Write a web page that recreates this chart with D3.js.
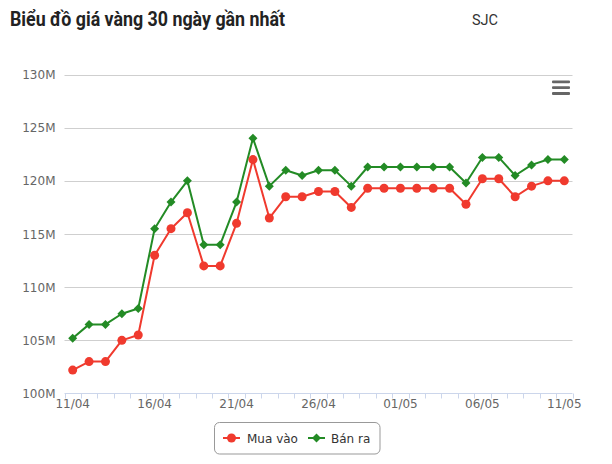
<!DOCTYPE html>
<html>
<head>
<meta charset="utf-8">
<script src="https://cdn.jsdelivr.net/npm/d3@7"></script>
<style>
  html, body { margin: 0; padding: 0; background: #fff; }
  svg { display: block; }
</style>
</head>
<body>
<svg id="chart" width="612" height="464"></svg>
<script>
const dates = ["11/04","12/04","13/04","14/04","15/04","16/04","17/04","18/04","19/04","20/04",
  "21/04","22/04","23/04","24/04","25/04","26/04","27/04","28/04","29/04","30/04",
  "01/05","02/05","03/05","04/05","05/05","06/05","07/05","08/05","09/05","10/05","11/05"];
const muaVao = [102.2,103,103,105,105.5,113,115.5,117,112,112,
  116,122,116.5,118.5,118.5,119,119,117.5,119.3,119.3,
  119.3,119.3,119.3,119.3,117.8,120.2,120.2,118.5,119.5,120,120];
const banRa = [105.2,106.5,106.5,107.5,108,115.5,118,120,114,114,
  118,124,119.5,121,120.5,121,121,119.5,121.3,121.3,
  121.3,121.3,121.3,121.3,119.8,122.2,122.2,120.5,121.5,122,122];
const yTicks = [100,105,110,115,120,125,130];
const xLabelDates = ["11/04","16/04","21/04","26/04","01/05","06/05","11/05"];
const seriesNames = ["Mua vào","Bán ra"];
const chartTitle = "Biểu đồ giá vàng 30 ngày gần nhất";
const chartSubtitle = "SJC";

const svg = d3.select("#chart");
const pLeft = 64.5, pRight = 572.5, pTop = 74.5, pBottom = 393.5;
const x = d3.scaleBand().domain(dates).range([pLeft, pRight]).padding(0);
const cx = d => x(d) + x.bandwidth() / 2;
const y = d3.scaleLinear().domain([100, 130]).range([pBottom, pTop]);
const labelFont = "'DejaVu Sans', Verdana, sans-serif";

// title
svg.append("text").attr("x", 10).attr("y", 26)
  .attr("font-family", "Roboto, sans-serif").attr("font-weight", "bold")
  .attr("font-size", 19.5).attr("fill", "#222")
  .attr("textLength", 275).attr("lengthAdjust", "spacingAndGlyphs").text(chartTitle);
svg.append("text").attr("x", 498).attr("y", 25).attr("text-anchor", "end")
  .attr("font-family", "Roboto, sans-serif").attr("font-size", 14.5)
  .attr("fill", "#333").text(chartSubtitle);

// gridlines
svg.append("g").selectAll("line").data(yTicks.filter(t => t > 100)).join("line")
  .attr("x1", pLeft).attr("x2", pRight)
  .attr("y1", d => Math.round(y(d)) + 0.5).attr("y2", d => Math.round(y(d)) + 0.5)
  .attr("stroke", "#cfcfcf").attr("stroke-width", 1);

// y labels
svg.append("g").selectAll("text").data(yTicks).join("text")
  .attr("x", 55.5).attr("y", d => y(d) + 4.5).attr("text-anchor", "end")
  .attr("font-family", labelFont).attr("font-size", 12).attr("fill", "#666")
  .text(d => d + "M");

// x axis
const xAxis = d3.axisBottom(x).tickSize(5).tickFormat(d => xLabelDates.includes(d) ? d : "");
const gx = svg.append("g").attr("transform", `translate(0,${pBottom})`).call(xAxis);
gx.select(".domain").remove();
gx.selectAll(".tick line").remove();
gx.selectAll(".tick text").attr("font-family", labelFont).attr("font-size", 12)
  .attr("fill", "#666").attr("dy", 0).attr("y", 14.5);
svg.append("line").attr("x1", pLeft).attr("x2", pRight).attr("y1", pBottom).attr("y2", pBottom)
  .attr("stroke", "#ccd6eb").attr("stroke-width", 1);
const bounds = dates.map(d => x(d)).concat([pRight]);
svg.append("g").selectAll("line").data(bounds).join("line")
  .attr("x1", d => Math.round(d) + 0.5).attr("x2", d => Math.round(d) + 0.5)
  .attr("y1", pBottom).attr("y2", pBottom + 5)
  .attr("stroke", "#ccd6eb").attr("stroke-width", 1);

// series
const colors = ["#f03a2e", "#238b25"];
const series = [muaVao, banRa];
const line = d3.line().x((v, i) => cx(dates[i])).y(v => y(v));
series.forEach((vals, si) => {
  svg.append("path").attr("d", line(vals)).attr("fill", "none")
    .attr("stroke", colors[si]).attr("stroke-width", 2).attr("stroke-linejoin", "round");
});
svg.append("g").selectAll("circle").data(muaVao).join("circle")
  .attr("cx", (v, i) => cx(dates[i])).attr("cy", v => y(v)).attr("r", 4.5)
  .attr("fill", colors[0]);
const diamond = (px, py, r) => `M${px},${py - r}L${px + r},${py}L${px},${py + r}L${px - r},${py}Z`;
svg.append("g").selectAll("path").data(banRa).join("path")
  .attr("d", (v, i) => diamond(cx(dates[i]), y(v), 4.5)).attr("fill", colors[1]);

// menu icon
svg.append("g").selectAll("rect").data([0, 1, 2]).join("rect")
  .attr("x", 552).attr("y", d => 80.5 + d * 5.8).attr("width", 18).attr("height", 2.8)
  .attr("rx", 1).attr("fill", "#666");

// legend
const lg = svg.append("g");
lg.append("rect").attr("x", 214.5).attr("y", 422.5).attr("width", 165.5).attr("height", 31.5)
  .attr("rx", 5).attr("fill", "#fff").attr("stroke", "#999").attr("stroke-width", 1);
const legendItems = [
  { name: seriesNames[0], x0: 223, color: colors[0], tx: 247, shape: "circle" },
  { name: seriesNames[1], x0: 308, color: colors[1], tx: 331, shape: "diamond" }
];
const ly = 438;
legendItems.forEach(it => {
  lg.append("line").attr("x1", it.x0).attr("x2", it.x0 + 17).attr("y1", ly).attr("y2", ly)
    .attr("stroke", it.color).attr("stroke-width", 2);
  if (it.shape === "circle") {
    lg.append("circle").attr("cx", it.x0 + 8.5).attr("cy", ly).attr("r", 4.5).attr("fill", it.color);
  } else {
    lg.append("path").attr("d", diamond(it.x0 + 8.5, ly, 4.5)).attr("fill", it.color);
  }
  lg.append("text").attr("x", it.tx).attr("y", ly + 4.5)
    .attr("font-family", labelFont).attr("font-size", 12).attr("fill", "#333")
    .text(it.name);
});
</script>
</body>
</html>
